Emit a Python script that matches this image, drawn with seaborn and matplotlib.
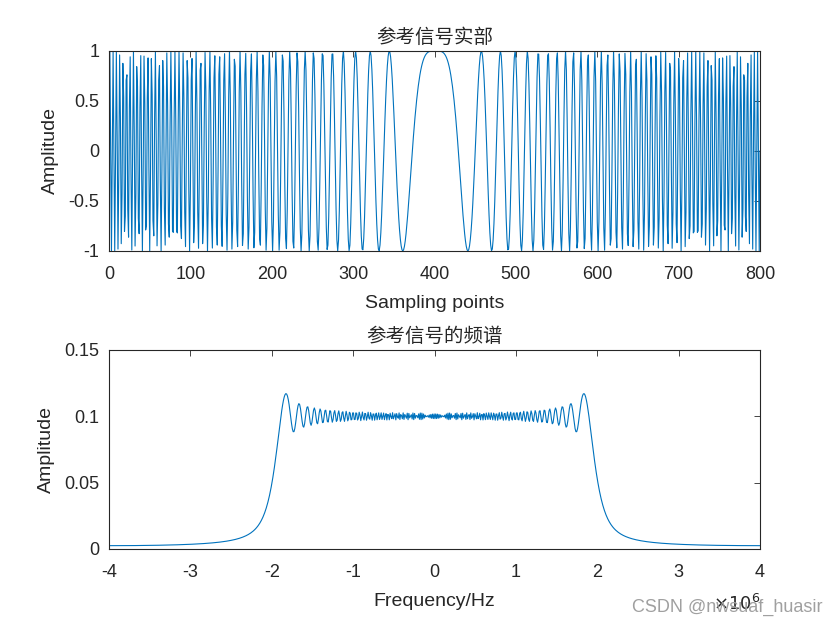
import numpy as np
import pandas as pd
import matplotlib
matplotlib.use("Agg")
import matplotlib.pyplot as plt
import seaborn as sns

# Chirp parameters
n_samples = 800            # sampling points 0..800
fs = 8e6                   # frequency axis spans -4e6..4e6 Hz
bandwidth = 4e6            # flat spectrum from -2e6 to 2e6 Hz
top_title = "参考信号实部"
bottom_title = "参考信号的频谱"
top_yticks = [-1, -0.5, 0, 0.5, 1]
top_ytick_labels = ["-1", "-0.5", "0", "0.5", "1"]
top_xticks = [0, 100, 200, 300, 400, 500, 600, 700, 800]
bottom_yticks = [0, 0.05, 0.1, 0.15]
bottom_ytick_labels = ["0", "0.05", "0.1", "0.15"]
bottom_xticks = [-4e6, -3e6, -2e6, -1e6, 0, 1e6, 2e6, 3e6, 4e6]
bottom_xtick_labels = ["-4", "-3", "-2", "-1", "0", "1", "2", "3", "4"]

T = n_samples / fs
K = bandwidth / T
t = np.arange(n_samples) / fs - T / 2
sig = np.exp(1j * np.pi * K * t ** 2)
spec = np.abs(np.fft.fftshift(np.fft.fft(sig))) / (n_samples / 2)
freq = np.linspace(-fs / 2, fs / 2, n_samples)

df_top = pd.DataFrame({"n": np.arange(1, n_samples + 1), "v": sig.real})
df_bot = pd.DataFrame({"f": freq, "a": spec})

sns.set_style("white")
plt.rcParams["font.family"] = ["Liberation Sans", "Noto Sans CJK SC", "DejaVu Sans"]
plt.rcParams["axes.unicode_minus"] = False

color = "#0072BD"
dark = "#262626"
fig = plt.figure(figsize=(8.4, 6.3), dpi=100)
ax1 = fig.add_axes([0.1298, 0.6016, 0.775, 0.3175])
ax2 = fig.add_axes([0.1298, 0.1286, 0.775, 0.3159])

sns.lineplot(data=df_top, x="n", y="v", ax=ax1, color=color, linewidth=0.8)
sns.lineplot(data=df_bot, x="f", y="a", ax=ax2, color=color, linewidth=0.8)

ax1.set_xlim(0, 800)
ax1.set_ylim(-1, 1)
ax1.set_xticks(top_xticks)
ax1.set_yticks(top_yticks)
ax1.set_yticklabels(top_ytick_labels)
ax1.set_xlabel("Sampling points", fontsize=14, labelpad=9, color=dark)
ax1.set_ylabel("Amplitude", fontsize=14, labelpad=7, color=dark)
ax1.set_title(top_title, fontsize=14, family=["Noto Sans CJK SC"], pad=6, color=dark)

ax2.set_xlim(-4e6, 4e6)
ax2.set_ylim(0, 0.15)
ax2.set_xticks(bottom_xticks)
ax2.set_xticklabels(bottom_xtick_labels)
ax2.set_yticks(bottom_yticks)
ax2.set_yticklabels(bottom_ytick_labels)
ax2.set_xlabel("Frequency/Hz", fontsize=14, labelpad=9, color=dark)
ax2.set_ylabel("Amplitude", fontsize=14, labelpad=7, color=dark)
ax2.set_title(bottom_title, fontsize=14, family=["Noto Sans CJK SC"], pad=6, color=dark)
ax2.annotate(r"$\times10^{6}$", xy=(1, 0), xycoords="axes fraction",
             xytext=(0, -44), textcoords="offset points", ha="right",
             va="baseline", fontsize=13, color=dark)

for ax in (ax1, ax2):
    ax.tick_params(axis="both", direction="in", top=True, right=True, labelsize=13,
                   length=4, width=0.6, color=dark, labelcolor=dark)
    ax.tick_params(axis="x", pad=10.5)
    ax.tick_params(axis="y", pad=7)
    for s in ax.spines.values():
        s.set_visible(True)
        s.set_color(dark)
        s.set_linewidth(0.8)
    ax.grid(False)

fig.text(0.979, 0.036, "CSDN @nwsuaf_huasir", ha="right", va="center",
         fontsize=13, color="#a0a0a0")

fig.savefig("out.png", dpi=100, facecolor="white")
